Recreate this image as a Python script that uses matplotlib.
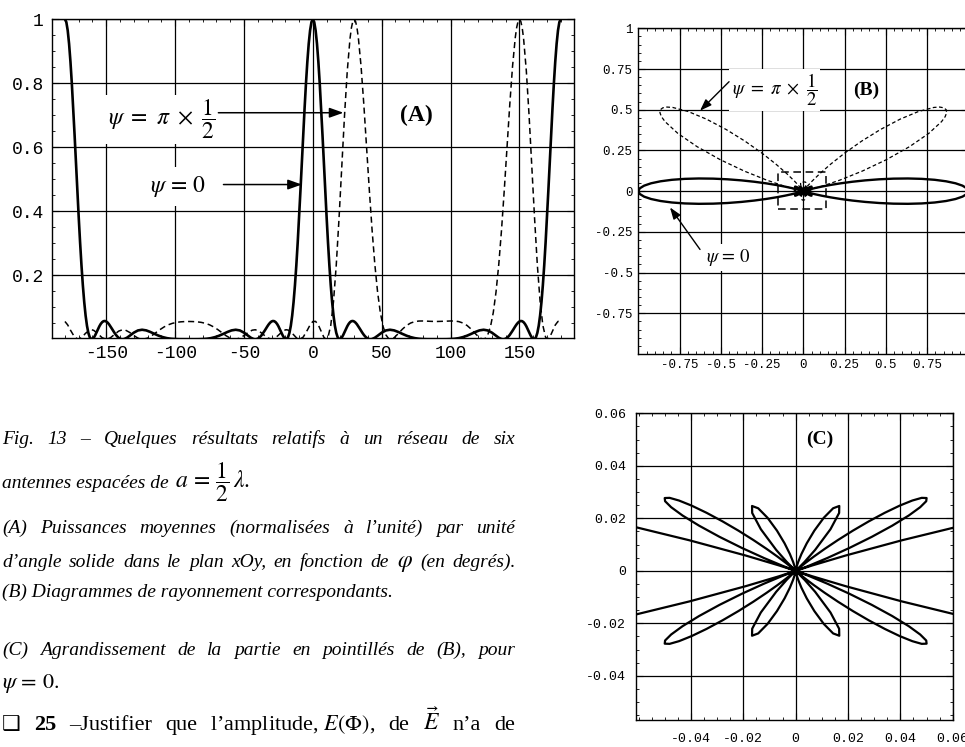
#!/usr/bin/env python3
"""
Six antenna array (spacing a = lambda/2): normalised power vs phi,
radiation diagrams and a zoom on the small lobes, with the caption text.
"""
import numpy as np
import matplotlib
matplotlib.use('agg')
import matplotlib.pyplot as plt
from matplotlib.ticker import MultipleLocator
from matplotlib.patches import Rectangle

plt.rcParams['font.family'] = 'Liberation Mono'
plt.rcParams['mathtext.fontset'] = 'stix'

# --- values ----------------------------------------------------------------
# psi = 0 (solid), phi in degrees from 0 to 90 ; the curve is symmetric
# about 0 and about 90 degrees
phi_solid = [0, 1, 2, 3, 4, 5, 6, 7, 8, 9, 10, 11, 12, 13, 14, 15, 16, 17, 18, 19,
             19.47, 20, 21, 22, 23, 24, 25, 26, 27, 28, 29, 30, 31, 32, 33, 34, 35,
             36, 37, 38, 39, 40, 41, 41.81, 43, 45, 47, 50, 53, 56, 59, 62, 65, 68,
             71, 74, 77, 80, 83, 86, 90]
pow_solid = [1.0000, 0.9913, 0.9654, 0.9236, 0.8674, 0.7994, 0.7220, 0.6385, 0.5518,
             0.4651, 0.3811, 0.3024, 0.2311, 0.1687, 0.1163, 0.0741, 0.0422, 0.0200,
             0.0066, 0.0006, 0.0000, 0.0007, 0.0053, 0.0130, 0.0222, 0.0318, 0.0407,
             0.0481, 0.0534, 0.0565, 0.0572, 0.0556, 0.0520, 0.0469, 0.0406, 0.0337,
             0.0267, 0.0200, 0.0139, 0.0088, 0.0047, 0.0019, 0.0004, 0.0000, 0.0007,
             0.0048, 0.0109, 0.0207, 0.0276, 0.0298, 0.0278, 0.0229, 0.0169, 0.0113,
             0.0068, 0.0036, 0.0016, 0.0006, 0.0001, 0.0000, 0.0000]

# psi = pi/2 (dashed), phi from -90 to 90 ; symmetric about +-90 degrees
phi_dash = [-90, -87, -84, -81, -78, -75, -72, -69, -66, -63, -60, -56.44, -53, -50,
            -47, -44, -41.8, -39, -36, -33, -30, -27, -24, -21, -19.47, -18, -15, -12,
            -9.59, -7, -4, -2, 0, 2, 4, 6, 8, 9.59, 11, 13, 15, 17, 19, 21, 23, 25, 27,
            28, 29, 30, 31, 32, 33, 35, 37, 39, 41, 43, 45, 47, 49, 51, 53, 55, 56.44,
            59, 62, 65, 68, 71, 74, 77, 80, 83, 86, 90]
pow_dash = [0.0556, 0.0553, 0.0545, 0.0528, 0.0498, 0.0452, 0.0386, 0.0302, 0.0206,
            0.0111, 0.0036, 0.0000, 0.0036, 0.0117, 0.0214, 0.0285, 0.0298, 0.0255,
            0.0153, 0.0047, 0.0000, 0.0049, 0.0168, 0.0276, 0.0298, 0.0289, 0.0188,
            0.0050, 0.0000, 0.0068, 0.0286, 0.0449, 0.0556, 0.0559, 0.0445, 0.0251,
            0.0063, 0.0000, 0.0065, 0.0432, 0.1183, 0.2322, 0.3774, 0.5394, 0.6997,
            0.8389, 0.9405, 0.9735, 0.9934, 1.0000, 0.9935, 0.9745, 0.9439, 0.8534,
            0.7346, 0.6014, 0.4669, 0.3420, 0.2343, 0.1478, 0.0834, 0.0399, 0.0140,
            0.0021, 0.0000, 0.0049, 0.0176, 0.0315, 0.0430, 0.0508, 0.0552, 0.0570,
            0.0572, 0.0566, 0.0560, 0.0556]

ticks_A_x = [-150, -100, -50, 0, 50, 100, 150]
ticks_A_y = [0.2, 0.4, 0.6, 0.8, 1.0]
labels_A_y = ['0.2', '0.4', '0.6', '0.8', '1']
ticks_B = [-0.75, -0.5, -0.25, 0, 0.25, 0.5, 0.75, 1.0]
labels_B = ['-0.75', '-0.5', '-0.25', '0', '0.25', '0.5', '0.75', '1']
ticks_C = [-0.04, -0.02, 0, 0.02, 0.04, 0.06]
labels_C = ['-0.04', '-0.02', '0', '0.02', '0.04', '0.06']

# --- full -180..180 curves using the symmetries of the pattern ---------------
ps = np.array(phi_solid, float)
vs = np.array(pow_solid, float)
half_phi = np.concatenate([ps, 180 - ps[::-1][1:]])
half_val = np.concatenate([vs, vs[::-1][1:]])
solid_phi = np.concatenate([-half_phi[::-1], half_phi[1:]])
solid_val = np.concatenate([half_val[::-1], half_val[1:]])

pd_ = np.array(phi_dash, float)
vd = np.array(pow_dash, float)
neg = pd_ <= 0
pos = pd_ >= 0
dash_phi = np.concatenate([-180 - pd_[neg][::-1], pd_[1:-1], 180 - pd_[pos][::-1]])
dash_val = np.concatenate([vd[neg][::-1], vd[1:-1], vd[pos][::-1]])

W, H = 965, 747
fig = plt.figure(figsize=(W / 100, H / 100), dpi=100)


def box(l, t, r, b):
    return [l / W, 1 - b / H, (r - l) / W, (b - t) / H]


def frame(ax, xt, xl, yt, yl, xminor, yminor, size, xpad, ypad):
    ax.set_xticks(xt, xl)
    ax.set_yticks(yt, yl)
    ax.xaxis.set_minor_locator(MultipleLocator(xminor))
    ax.yaxis.set_minor_locator(MultipleLocator(yminor))
    ax.tick_params(which='both', direction='in', top=True, right=True, color='k')
    ax.tick_params(which='major', length=5, width=0.8)
    ax.tick_params(which='minor', length=2.5, width=0.6)
    ax.tick_params(axis='x', pad=xpad, labelsize=size)
    ax.tick_params(axis='y', pad=ypad, labelsize=size)
    ax.grid(True, which='major', color='k', lw=0.9)
    ax.set_axisbelow(True)
    for s in ax.spines.values():
        s.set_linewidth(1.0)


def arrow(ax, tail, head, lw=1.1, ms=12):
    ax.annotate('', xy=head, xytext=tail,
                arrowprops=dict(arrowstyle='-|>,head_length=0.7,head_width=0.25',
                                color='k', lw=lw, mutation_scale=ms,
                                shrinkA=0, shrinkB=0))


white = dict(fc='white', ec='none', pad=2)

# ---------------------------------------------------------------- (A)
axA = fig.add_axes(box(52, 19.3, 573.7, 338))
axA.plot(solid_phi, solid_val, color='k', lw=1.9)
axA.plot(dash_phi, dash_val, color='k', lw=1.1, ls=(0, (4, 2.5)))
axA.set_xlim(-189.4, 189.4)
axA.set_ylim(0.004, 1.0)
frame(axA, ticks_A_x, [str(t) for t in ticks_A_x], ticks_A_y, labels_A_y,
      10, 0.05, 13, 5, 6)
axA.text(-148.7, 0.669, r'$\psi\ =\ \pi\ \times\ \dfrac{1}{2}$', fontsize=17,
         va='baseline', ha='left', bbox=white)
arrow(axA, (-68.6, 0.708), (22.2, 0.708))
axA.text(-118.2, 0.4604, r'$\psi\,=\,0$', fontsize=17, va='baseline', ha='left',
         bbox=dict(fc='white', ec='none', pad=5))
arrow(axA, (-64.9, 0.4836), (-8.0, 0.4836))
axA.text(75.5, 0.70, '(A)', fontsize=17, fontweight='bold',
         fontfamily='Liberation Serif', ha='center', va='center')

# ---------------------------------------------------------------- (B)
rad = np.radians
axB = fig.add_axes(box(638.3, 28.3, 968.3, 354))
axB.plot(solid_val * np.cos(rad(solid_phi)), solid_val * np.sin(rad(solid_phi)),
         color='k', lw=1.7)
axB.plot(dash_val * np.cos(rad(dash_phi)), dash_val * np.sin(rad(dash_phi)),
         color='k', lw=0.9, ls=(0, (3, 2)))
axB.add_patch(Rectangle((-0.152, -0.112), 0.288, 0.231, fill=False, ec='k',
                        lw=1.1, ls=(0, (5, 3)), zorder=4))
axB.set_xlim(-1, 1)
axB.set_ylim(-1, 1)
frame(axB, ticks_B, labels_B, ticks_B, labels_B, 0.05, 0.05, 9, 3.5, 4)
axB.text(-0.434, 0.590, r'$\psi\ =\ \pi\ \times\ \dfrac{1}{2}$', fontsize=13.5,
         va='baseline', ha='left', bbox=white)
arrow(axB, (-0.450, 0.672), (-0.626, 0.494), lw=1.0, ms=10)
axB.text(0.384, 0.616, '(B)', fontsize=14, fontweight='bold',
         fontfamily='Liberation Serif', ha='center', va='center', bbox=white)
axB.text(-0.592, -0.434, r'$\psi\,=\,0$', fontsize=13.5, va='baseline', ha='left',
         bbox=white)
arrow(axB, (-0.626, -0.358), (-0.808, -0.100), lw=1.0, ms=10)

# ---------------------------------------------------------------- (C)
axC = fig.add_axes(box(636, 413.3, 952.7, 720))
axC.plot(solid_val * np.cos(rad(solid_phi)), solid_val * np.sin(rad(solid_phi)),
         color='k', lw=1.6)
axC.set_xlim(-0.061, 0.060)
axC.set_ylim(-0.0568, 0.060)
frame(axC, ticks_C, labels_C, ticks_C, labels_C, 0.005, 0.005, 9.5, 9, 7)
axC.text(0.0091, 0.0499, '(C)', fontsize=14, fontweight='bold',
         fontfamily='Liberation Serif', ha='center', va='center')

# ---------------------------------------------------------------- caption
cap = dict(fontfamily='Liberation Serif', fontstyle='italic', fontsize=14)


def justify(words, x0, x1, y, **kw):
    r = fig.canvas.get_renderer()
    objs = []
    for w in words:
        s, extra = w if isinstance(w, tuple) else (w, {})
        objs.append(fig.text(0, 1 - y / H, s, va='baseline', ha='left',
                             **{**kw, **extra}))
    widths = [t.get_window_extent(r).width for t in objs]
    gap = (x1 - x0 - sum(widths)) / (len(objs) - 1)
    x = x0
    for t, wd in zip(objs, widths):
        t.set_x(x / W)
        x += wd + gap


def line(s, x, y, **kw):
    fig.text(x / W, 1 - y / H, s, va='baseline', ha='left', **kw)


justify(['Fig.', '13', '–', 'Quelques', 'résultats', 'relatifs', 'à', 'un',
         'réseau', 'de', 'six'], 2, 515, 444, **cap)
line('antennes espacées de', 2, 488, **cap)
line(r'$a\,=\,\dfrac{1}{2}\,\lambda.$', 175, 488, fontsize=17)
justify(['(A)', 'Puissances', 'moyennes', '(normalisées', 'à', 'l’unité)', 'par',
         'unité'], 2, 515, 533, **cap)
justify(['d’angle', 'solide', 'dans', 'le', 'plan', 'xOy,', 'en', 'fonction', 'de',
         (r'$\varphi$', dict(fontsize=17, fontstyle='normal')), '(en', 'degrés).'],
        2, 516, 567, **cap)
line('(B) Diagrammes de rayonnement correspondants.', 2, 597, **cap)
justify(['(C)', 'Agrandissement', 'de', 'la', 'partie', 'en', 'pointillés', 'de',
         '(B),', 'pour'], 2, 515, 655, **cap)
line(r'$\psi\,=\,0.$', 2, 688, fontsize=16)

body = dict(fontfamily='Liberation Serif', fontsize=16)
justify([('❑', dict(fontfamily=['DejaVu Sans'], fontsize=15)),
         ('25', dict(fontweight='bold')), '–Justifier', 'que',
         r'l’amplitude, $E\left(\mathit{\Phi}\right)$,', 'de',
         (r'$\vec{E}$', dict(fontsize=17)), 'n’a', 'de'], 2, 515, 730, **body)

fig.savefig('out.png', dpi=100)
